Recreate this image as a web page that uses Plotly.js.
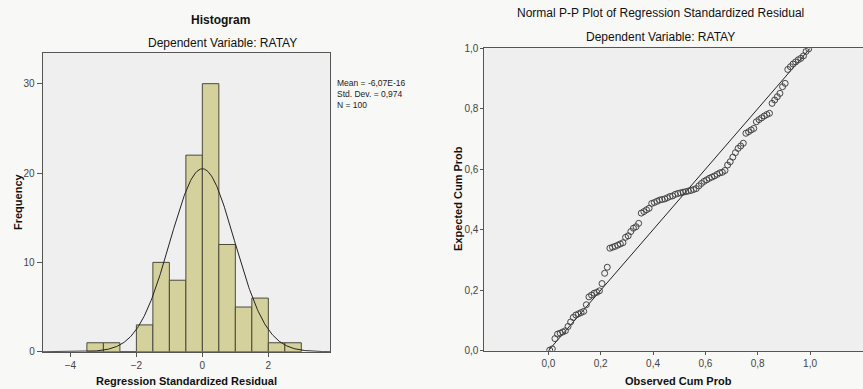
<!DOCTYPE html>
<html>
<head>
<meta charset="utf-8">
<script src="https://cdn.plot.ly/plotly-3.0.1.min.js"></script>
<style>html,body{margin:0;padding:0;background:#f8f8f6;}#chart{width:863px;height:389px;}</style>
</head>
<body>
<div id="chart"></div>
<script>
// Histogram data
var binCenters = [-3.25,-2.75,-2.25,-1.75,-1.25,-0.75,-0.25,0.25,0.75,1.25,1.75,2.25,2.75];
var binCounts  = [1,1,0,3,10,8,22,30,12,5,6,1,1];
var binWidth = 0.5;
var statMean = -6.07e-16, statSD = 0.974, statN = 100;
var histXTicks = [-4,-2,0,2];
var histYTicks = [0,10,20,30];

// P-P plot data
var observedCum = [
 0.005,0.015,0.025,0.035,0.045,0.055,0.065,0.075,0.085,0.095,
 0.105,0.115,0.125,0.135,0.145,0.155,0.165,0.175,0.185,0.195,
 0.205,0.215,0.225,0.235,0.245,0.255,0.265,0.275,0.285,0.295,
 0.305,0.315,0.325,0.335,0.345,0.355,0.365,0.375,0.385,0.395,
 0.405,0.415,0.425,0.435,0.445,0.455,0.465,0.475,0.485,0.495,
 0.505,0.515,0.525,0.535,0.545,0.555,0.565,0.575,0.585,0.595,
 0.605,0.615,0.625,0.635,0.645,0.655,0.665,0.675,0.685,0.695,
 0.705,0.715,0.725,0.735,0.745,0.755,0.765,0.775,0.785,0.795,
 0.805,0.815,0.825,0.835,0.845,0.855,0.865,0.875,0.885,0.895,
 0.905,0.915,0.925,0.935,0.945,0.955,0.965,0.975,0.985,0.995];
var expectedCum = [
 0.002,0.006,0.040,0.055,0.058,0.062,0.066,0.080,0.095,0.110,
 0.118,0.122,0.126,0.130,0.152,0.178,0.184,0.190,0.193,0.198,
 0.222,0.256,0.276,0.339,0.342,0.345,0.349,0.353,0.357,0.375,
 0.380,0.394,0.405,0.410,0.421,0.455,0.460,0.466,0.471,0.487,
 0.490,0.494,0.498,0.500,0.502,0.506,0.510,0.512,0.517,0.520,
 0.522,0.524,0.526,0.528,0.530,0.533,0.536,0.545,0.553,0.560,
 0.565,0.570,0.574,0.578,0.583,0.588,0.590,0.596,0.614,0.625,
 0.640,0.655,0.669,0.677,0.686,0.719,0.724,0.730,0.735,0.757,
 0.764,0.770,0.776,0.781,0.785,0.818,0.829,0.840,0.851,0.873,
 0.884,0.930,0.939,0.948,0.955,0.962,0.967,0.975,0.990,0.998];
var ppTicks = [0,0.2,0.4,0.6,0.8,1.0];
var ppTickText = ['0,0','0,2','0,4','0,6','0,8','1,0'];
var refLineX = [0,1], refLineY = [0,1];

// normal curve from stated statistics
var curveX = [], curveY = [];
for (var i = 0; i <= 400; i++) {
  var x = -4.84 + i * (3.87 + 4.84) / 400;
  curveX.push(x);
  curveY.push(statN * binWidth / (statSD * Math.sqrt(2 * Math.PI)) *
              Math.exp(-0.5 * Math.pow((x - statMean) / statSD, 2)));
}

var FONT = 'Liberation Sans, Arial, sans-serif';
var tickFont = {family: FONT, size: 10, color: '#444'};

var traces = [
  {type: 'bar', x: binCenters, y: binCounts, width: binWidth,
   marker: {color: '#d5d19c', line: {color: '#4a4a3a', width: 1}},
   xaxis: 'x', yaxis: 'y', hoverinfo: 'skip'},
  {type: 'scatter', mode: 'lines', x: curveX, y: curveY,
   line: {color: '#222', width: 1}, xaxis: 'x', yaxis: 'y', hoverinfo: 'skip'},
  {type: 'scatter', mode: 'lines', x: refLineX, y: refLineY,
   line: {color: '#222', width: 1}, xaxis: 'x2', yaxis: 'y2', hoverinfo: 'skip'},
  {type: 'scatter', mode: 'markers', x: observedCum, y: expectedCum,
   marker: {symbol: 'circle-open', size: 6, color: '#444', line: {width: 1, color: '#444'}},
   xaxis: 'x2', yaxis: 'y2', hoverinfo: 'skip'}
];

var axBase = {showgrid: false, zeroline: false, showline: true, linecolor: '#555', linewidth: 1,
  ticks: 'outside', tickcolor: '#555', tickfont: tickFont, fixedrange: true};

function ann(text, px, py, size, extra) {
  return Object.assign({text: text, x: px/863, y: 1 - py/389, xref: 'paper', yref: 'paper',
    xanchor: 'center', yanchor: 'middle', showarrow: false,
    font: {family: FONT, size: size, color: '#111'}}, extra || {});
}

var layout = {
  width: 863, height: 389,
  margin: {l: 0, r: 0, t: 0, b: 0},
  paper_bgcolor: '#f8f8f6', plot_bgcolor: '#eeefee',
  showlegend: false, bargap: 0,
  xaxis: Object.assign({}, axBase, {domain: [0.04948, 0.38239], range: [-4.84, 3.87],
    tickvals: histXTicks, ticklen: 4, mirror: true, anchor: 'y'}),
  yaxis: Object.assign({}, axBase, {domain: [0.09589, 0.86298], range: [0, 33.4],
    tickvals: histYTicks, ticklen: 5, mirror: true, anchor: 'x'}),
  xaxis2: Object.assign({}, axBase, {domain: [0.56118, 1], range: [-0.245, 1.2025],
    tickvals: ppTicks, ticktext: ppTickText, ticklen: 3, mirror: true, anchor: 'y2'}),
  yaxis2: Object.assign({}, axBase, {domain: [0.09846, 0.87584], range: [0, 1],
    tickvals: ppTicks, ticktext: ppTickText, ticklen: 3, mirror: false, anchor: 'x2'}),
  annotations: [
    ann('<b>Histogram</b>', 220, 20, 12),
    ann('Dependent Variable: RATAY', 222, 43, 12),
    ann('Mean = -6,07E-16<br>Std. Dev. = 0,974<br>N = 100', 335, 76, 8.5,
        {xanchor: 'left', yanchor: 'top', align: 'left', font: {family: FONT, size: 8.5, color: '#222'}}),
    ann('<b>Frequency</b>', 18, 202, 11, {textangle: -90}),
    ann('<b>Regression Standardized Residual</b>', 186, 381, 11),
    ann('Normal P-P Plot of Regression Standardized Residual', 660, 13, 12),
    ann('Dependent Variable: RATAY', 660, 37, 12),
    ann('<b>Expected Cum Prob</b>', 458, 199, 11, {textangle: -90}),
    ann('<b>Observed Cum Prob</b>', 678, 381, 11)
  ]
};

Plotly.newPlot('chart', traces, layout, {displayModeBar: false, staticPlot: true});
</script>
</body>
</html>
